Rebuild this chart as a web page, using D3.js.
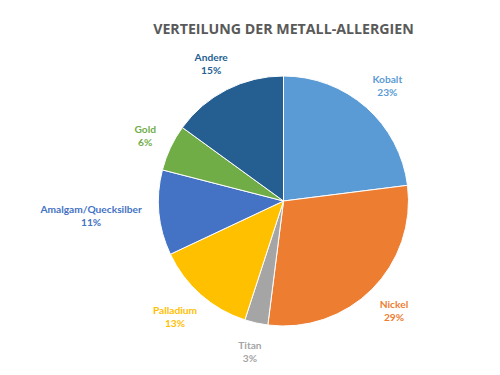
<!DOCTYPE html>
<html><head><meta charset="utf-8">
<script src="https://cdn.jsdelivr.net/npm/d3@7"></script>
<style>body{margin:0;background:#fff;}svg{display:block;}</style>
</head><body>
<svg id="c" width="500" height="375"></svg>
<script>
const categories = ["Kobalt","Nickel","Titan","Palladium","Amalgam/Quecksilber","Gold","Andere"];
const values = [23,29,3,13,11,6,15];
const colors = ["#5B9BD5","#ED7D31","#A5A5A5","#FFC000","#4472C4","#70AD47","#255E91"];
const title = "VERTEILUNG DER METALL-ALLERGIEN";

const svg = d3.select("#c");
const cx = 283.5, cy = 201, R = 125;
const font = "'Open Sans', 'Segoe UI', sans-serif";
const lfont = "Lato, 'Segoe UI', sans-serif";

svg.append("text").attr("x", cx).attr("y", 34).attr("text-anchor","middle")
  .attr("font-family", font).attr("font-weight","bold").attr("font-size", 14.2)
  .attr("fill","#595959").text(title);

const pie = d3.pie().sort(null).value(d=>d)(values);
const arc = d3.arc().innerRadius(0).outerRadius(R);
const g = svg.append("g").attr("transform",`translate(${cx},${cy})`);
g.selectAll("path").data(pie).join("path")
  .attr("d", arc).attr("fill",(d,i)=>colors[i])
  .attr("stroke","#fff").attr("stroke-width",1);

const gap = 17;
pie.forEach((d,i)=>{
  const a = (d.startAngle + d.endAngle)/2;
  const t = g.append("text").attr("font-family",lfont).attr("font-weight","bold")
    .attr("font-size",10.2).attr("fill",colors[i]).attr("text-anchor","middle");
  t.append("tspan").attr("x",0).attr("dy",0).text(categories[i]);
  t.append("tspan").attr("x",0).attr("dy",13).text(values[i]+"%");
  const bb = t.node().getBBox();
  const w = bb.width, h = bb.height;
  const sx = Math.sin(a), sy = -Math.cos(a);
  const px = (R+gap)*sx + sx*w/2;
  const py = (R+gap)*sy + sy*h/2;
  const oy = py - (bb.y + h/2);
  t.attr("transform",`translate(${px},${oy})`);
});
</script>
</body></html>
